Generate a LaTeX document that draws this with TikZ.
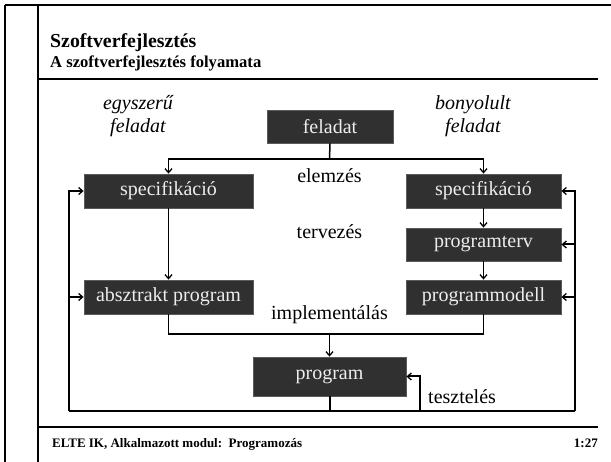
\documentclass[tikz,border=0pt]{standalone}
\usepackage{fontspec}
\setmainfont{Liberation Serif}
\usetikzlibrary{arrows.meta}
\definecolor{boxfill}{HTML}{303030}
\definecolor{boxdraw}{HTML}{5A5A5A}
\definecolor{boxtext}{HTML}{EDEDED}
\tikzset{
  stepbox/.style={draw=boxdraw, line width=0.8pt, fill=boxfill, text=boxtext,
    inner sep=0pt, font=\fontsize{20}{24}\selectfont},
  lbl/.style={inner sep=0pt, font=\fontsize{20}{24}\selectfont},
  ilbl/.style={inner sep=0pt, align=center, font=\fontsize{20}{23}\selectfont\itshape},
  conn/.style={line width=1.5pt},
  arr/.style={line width=1.5pt, -{Straight Barb[length=4pt,width=7pt,line width=1.3pt]}},
  loop/.style={line width=2pt},
  larr/.style={line width=2pt, -{Straight Barb[length=4pt,width=7pt,line width=1.3pt]}},
  frame/.style={line width=2pt},
  sep/.style={line width=1.2pt}
}
\begin{document}
\begin{tikzpicture}[x=1pt,y=-1pt]
\useasboundingbox (0,0) rectangle (611,462);
% frame
\draw[frame, line width=2.5pt] (5,5) -- (611,5);
\draw[frame] (5,5) -- (5,462);
\draw[frame] (38,5) -- (38,462);
\draw[sep] (38,79) -- (598,79);
\draw[sep] (38,427) -- (598,427);
% headings
\node[anchor=base west, inner sep=0pt, font=\fontsize{19.8}{22}\selectfont\bfseries] (title) at (50,48) {Szoftverfejlesztés};
\node[anchor=base west, inner sep=0pt, font=\fontsize{16.6}{19}\selectfont\bfseries] (subtitle) at (50,68) {A szoftverfejlesztés folyamata};
\node[anchor=base west, inner sep=0pt, font=\fontsize{13}{15}\selectfont\bfseries] (footer) at (52,447) {ELTE IK, Alkalmazott modul:\ \ Programozás};
\node[anchor=base east, inner sep=0pt, font=\fontsize{13}{15}\selectfont\bfseries] (page) at (598,447) {1:27};
% italic labels
\node[ilbl] (simple) at (138,116) {egyszerű\\feladat};
\node[ilbl] (complex) at (473,116) {bonyolult\\feladat};
% boxes
\node[stepbox, minimum width=126pt, minimum height=33pt] (fel) at (330,126.5) {feladat};
\node[stepbox, minimum width=169pt, minimum height=34pt] (specL) at (168.5,191) {specifikáció};
\node[stepbox, minimum width=155pt, minimum height=34pt] (specR) at (483.5,191) {specifikáció};
\node[stepbox, minimum width=155pt, minimum height=33pt] (pterv) at (483.5,244.5) {programterv};
\node[stepbox, minimum width=155pt, minimum height=34pt] (pmod) at (483.5,297) {programmodell};
\node[stepbox, minimum width=169pt, minimum height=34pt] (absL) at (168.5,297) {absztrakt program};
\node[stepbox, minimum width=153pt, minimum height=39pt] (prog) at (329.5,376.5) {program};
% phase labels
\node[lbl] (elem) at (329.5,176) {elemzés};
\node[lbl] (terv) at (329.5,232) {tervezés};
\node[lbl] (impl) at (329.5,315) {implementálás};
\node[lbl, anchor=west] (teszt) at (428,397) {tesztelés};
% coordinates
\coordinate (split) at (329.5,159);
\coordinate (merge) at (329.5,334);
\coordinate (bl) at (69,411);
\coordinate (br) at (575,411);
\coordinate (tb) at (420,411);
% connectors
\draw[conn] (fel.south) -- (split);
\draw[arr] (split) -| (specL.north);
\draw[arr] (split) -| (specR.north);
\draw[arr] (specL.south) -- (absL.north);
\draw[arr] (specR.south) -- (pterv.north);
\draw[arr] (pterv.south) -- (pmod.north);
\draw[conn] (absL.south) -- (absL.south |- merge) -- (pmod.south |- merge) -- (pmod.south);
\draw[arr] (merge) -- (prog.north);
% feedback loop
\draw[loop] (prog.south) -- (prog.south |- bl);
\draw[loop] (bl) -- (br);
\draw[larr] (bl) |- (specL.west);
\draw[larr] (bl |- absL.west) -- (absL.west);
\draw[larr] (br) |- (specR.east);
\draw[larr] (br |- pterv.east) -- (pterv.east);
\draw[larr] (br |- pmod.east) -- (pmod.east);
\draw[larr] (tb) |- (prog.east);
\end{tikzpicture}
\end{document}
